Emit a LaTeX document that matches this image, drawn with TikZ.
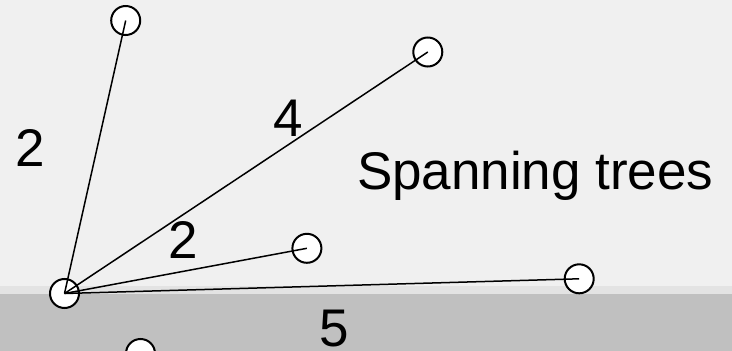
\documentclass[tikz,border=0pt]{standalone}
\usepackage{fontspec}
\setmainfont{Liberation Sans}
\definecolor{bgtop}{HTML}{F0F0F0}
\definecolor{bgband}{HTML}{E3E3E3}
\definecolor{bgbot}{HTML}{C0C0C0}
\tikzset{
  vert/.style={circle, draw=black, fill=white, line width=2pt, minimum size=29pt, inner sep=0pt},
  edge/.style={draw=black, line width=1.5pt},
  lbl/.style={font=\fontsize{53pt}{60pt}\selectfont, inner sep=0pt, anchor=base}
}
\begin{document}
\begin{tikzpicture}[x=1pt,y=-1pt]
  \useasboundingbox (0,0) rectangle (732,351);
  \clip (0,0) rectangle (732,351);
  \fill[bgtop] (0,0) rectangle (732,286);
  \fill[bgband] (0,286) rectangle (732,294);
  \fill[bgbot] (0,294) rectangle (732,351);
  \node[vert] (hub) at (64.5,293.5) {};
  \node[vert] (top) at (125.7,20.5) {};
  \node[vert] (ur) at (427.8,52) {};
  \node[vert] (mid) at (306.9,248.3) {};
  \node[vert] (right) at (579.2,278.8) {};
  \node[vert] (bot) at (140.5,353.5) {};
  \draw[edge] (hub.center) -- (top.center);
  \draw[edge] (hub.center) -- (ur.center);
  \draw[edge] (hub.center) -- (mid.center);
  \draw[edge] (hub.center) -- (right.center);
  \node[lbl] (w1) at (30.3,166) {2};
  \node[lbl] (w2) at (288.3,136) {4};
  \node[lbl] (w3) at (182.8,258) {2};
  \node[lbl] (w4) at (334,346) {5};
  \node[lbl, anchor=base west] (title) at (356.8,189.3) {Spanning trees};
\end{tikzpicture}
\end{document}
